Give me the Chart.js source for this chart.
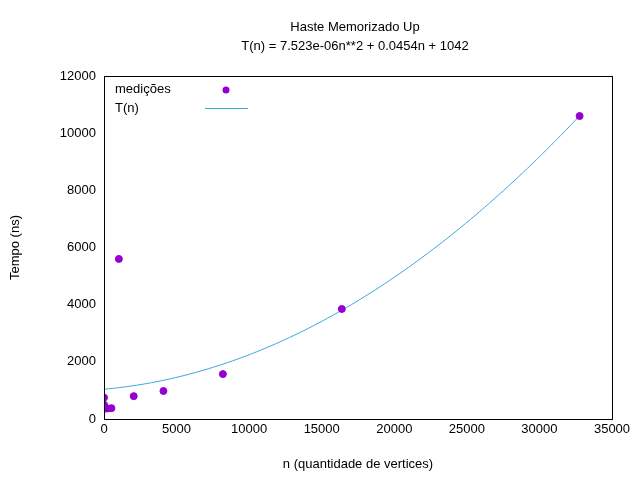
<!DOCTYPE html>
<html><head><meta charset="utf-8">
<script src="https://cdn.jsdelivr.net/npm/chart.js@4"></script>
<style>body{margin:0;background:#fff}#wrap{width:640px;height:480px}</style>
</head><body><div id="wrap"><canvas id="c"></canvas></div>
<script>
const nValues = [1,2,4,8,16,32,64,128,256,512,1024,2048,4096,8192,16384,32768];
const tempos  = [750,500,450,400,380,370,360,380,370,380,5600,800,980,1570,3850,10600];
const fitCoef = [7.523e-06, 0.0454, 1042];
const titleLines = ['Haste Memorizado Up', 'T(n) = 7.523e-06n**2 + 0.0454n + 1042'];

const medidas = nValues.map((n,i)=>({x:n, y:tempos[i]}));
const curva = [];
for(let k=0;k<=100;k++){
  const n = 32768*k/100;
  curva.push({x:n, y:fitCoef[0]*n*n + fitCoef[1]*n + fitCoef[2]});
}
const font = {family:'"Liberation Sans", Arial, sans-serif', size:13};

const decor = {
  id:'decor',
  afterDraw(ch){
    const c = ch.ctx, a = ch.chartArea;
    c.save();
    c.strokeStyle='#000'; c.lineWidth=1;
    c.strokeRect(a.left+0.5,a.top+0.5,a.right-a.left,a.bottom-a.top);
    c.fillStyle='#000'; c.font='13px "Liberation Sans", Arial, sans-serif';
    c.textAlign='center'; c.textBaseline='middle';
    c.fillText(titleLines[0], 355, 27);
    c.fillText(titleLines[1], 355, 46);
    c.textAlign='left';
    c.fillText('medições', 115, 89);
    c.fillText('T(n)', 115, 108);
    c.fillStyle='#9400d3';
    c.beginPath(); c.arc(226,90,3.5,0,Math.PI*2); c.fill();
    c.strokeStyle='#3aa8e0';
    c.beginPath(); c.moveTo(205,108.5); c.lineTo(248,108.5); c.stroke();
    c.restore();
  }
};

new Chart(document.getElementById('c'), {
  type:'scatter',
  data:{datasets:[
    {label:'medições', data:medidas, backgroundColor:'#9400d3', borderColor:'#9400d3', pointRadius:3.5, pointStyle:'circle'},
    {label:'T(n)', data:curva, type:'line', showLine:true, borderColor:'#3aa8e0', borderWidth:1, pointRadius:0, fill:false}
  ]},
  options:{
    responsive:true, maintainAspectRatio:false, animation:false,
    layout:{padding:{top:76, right:28, left:4, bottom:4}},
    plugins:{legend:{display:false}, tooltip:{enabled:false}},
    scales:{
      x:{type:'linear', min:0, max:35000,
        ticks:{stepSize:5000, font, color:'#000', maxRotation:0, callback:v=>String(v)},
        grid:{display:false, drawTicks:false},
        border:{display:false},
        title:{display:true, text:'n (quantidade de vertices)', font, color:'#000'},
        afterFit(s){s.height=57;}},
      y:{min:0, max:12000,
        ticks:{stepSize:2000, font, color:'#000', padding:8, callback:v=>String(v)},
        grid:{display:false, drawTicks:false},
        border:{display:false},
        title:{display:true, text:'Tempo (ns)', font, color:'#000'},
        afterFit(s){s.width=100;}}
    }
  },
  plugins:[decor]
});
</script></body></html>
